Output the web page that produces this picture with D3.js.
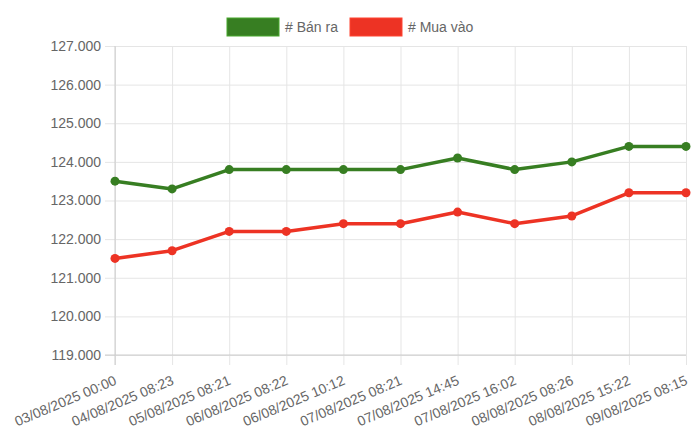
<!DOCTYPE html>
<html>
<head>
<meta charset="utf-8">
<script src="https://cdn.jsdelivr.net/npm/d3@7"></script>
<style>
  body { margin: 0; background: #fff; }
  text { font-family: "Liberation Sans", Arial, sans-serif; }
</style>
</head>
<body>
<svg id="chart" width="700" height="441"></svg>
<script>
// data
var labels = ["03/08/2025 00:00", "04/08/2025 08:23", "05/08/2025 08:21", "06/08/2025 08:22",
  "06/08/2025 10:12", "07/08/2025 08:21", "07/08/2025 14:45", "07/08/2025 16:02",
  "08/08/2025 08:26", "08/08/2025 15:22", "09/08/2025 08:15"];
var banRa = [123500, 123300, 123800, 123800, 123800, 123800, 124100, 123800, 124000, 124400, 124400];
var muaVao = [121500, 121700, 122200, 122200, 122400, 122400, 122700, 122400, 122600, 123200, 123200];
var yTicks = [119000, 120000, 121000, 122000, 123000, 124000, 125000, 126000, 127000];

var series = [
  {name: "# Bán ra", values: banRa, color: "#377e22"},
  {name: "# Mua vào", values: muaVao, color: "#ed3324"}
];

var margin = {top: 46, right: 14, bottom: 86, left: 115},
    width = 700 - margin.left - margin.right,
    height = 441 - margin.top - margin.bottom;

var svg = d3.select("#chart");
var g = svg.append("g")
    .attr("transform", "translate(" + margin.left + "," + margin.top + ")");

var x = d3.scalePoint()
    .domain(labels)
    .range([0, width]);

var y = d3.scaleLinear()
    .domain([119000, 127000])
    .range([height, 0]);

// horizontal grid + y labels
var yAxis = g.append("g")
    .call(d3.axisLeft(y).tickValues(yTicks).tickSize(-width - 10).tickPadding(6)
      .tickFormat(function(d) { return d3.format(".3f")(d / 1000); }));
yAxis.select(".domain").remove();
yAxis.selectAll(".tick line")
    .attr("x1", -10).attr("x2", width)
    .attr("stroke", "#e5e5e5");
yAxis.selectAll(".tick text")
    .attr("x", -14)
    .attr("fill", "#666")
    .style("font-size", "14px");

// vertical grid + x labels
var xAxis = g.append("g")
    .attr("transform", "translate(0," + height + ")")
    .call(d3.axisBottom(x).tickSize(10));
xAxis.select(".domain").remove();
xAxis.selectAll(".tick line")
    .attr("y1", -height).attr("y2", 10)
    .attr("stroke", "#e5e5e5");
xAxis.selectAll(".tick text")
    .attr("fill", "#666")
    .style("font-size", "14px")
    .attr("text-anchor", "end")
    .attr("y", 0)
    .attr("dy", 0)
    .attr("transform", "translate(2,29) rotate(-23)");

// axis lines
g.append("line")
    .attr("x1", 0).attr("x2", 0).attr("y1", 0).attr("y2", height + 10)
    .attr("stroke", "#cccccc");
g.append("line")
    .attr("x1", -10).attr("x2", width).attr("y1", height).attr("y2", height)
    .attr("stroke", "#cccccc");

var line = d3.line()
    .x(function(d, i) { return x(labels[i]); })
    .y(function(d) { return y(d); });

series.forEach(function(s) {
  g.append("path")
      .datum(s.values)
      .attr("fill", "none")
      .attr("stroke", s.color)
      .attr("stroke-width", 3.5)
      .attr("stroke-linejoin", "round")
      .attr("d", line);

  g.selectAll(null)
      .data(s.values)
    .enter().append("circle")
      .attr("cx", function(d, i) { return x(labels[i]); })
      .attr("cy", function(d) { return y(d); })
      .attr("r", 4.5)
      .attr("fill", s.color);
});

// legend
var legendX = [227, 350];
var legend = svg.selectAll(".legend")
    .data(series)
  .enter().append("g")
    .attr("class", "legend")
    .attr("transform", function(d, i) { return "translate(" + legendX[i] + ",18)"; });

legend.append("rect")
    .attr("width", 52).attr("height", 18)
    .attr("fill", function(d) { return d.color; })
    .attr("stroke", function(d) { return d3.color(d.color).brighter(0.8); })
    .attr("stroke-width", 1);

legend.append("text")
    .attr("x", 58).attr("y", 9)
    .attr("dy", "0.35em")
    .attr("fill", "#666")
    .style("font-size", "14px")
    .text(function(d) { return d.name; });
</script>
</body>
</html>
